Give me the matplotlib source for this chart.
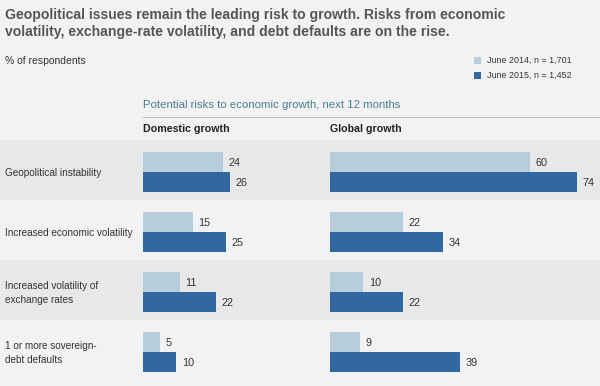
import matplotlib
matplotlib.use("Agg")
import matplotlib.pyplot as plt
from matplotlib.patches import Rectangle

plt.rcParams['font.family'] = ['Liberation Sans', 'DejaVu Sans']

categories = ["Geopolitical instability", "Increased economic volatility",
              "Increased volatility of\nexchange rates", "1 or more sovereign-\ndebt defaults"]
domestic_2014 = [24, 15, 11, 5]
domestic_2015 = [26, 25, 22, 10]
global_2014 = [60, 22, 10, 9]
global_2015 = [74, 34, 22, 39]
series_labels = ["June 2014, n = 1,701", "June 2015, n = 1,452"]
panel_titles = ["Domestic growth", "Global growth"]

W, H = 600, 386
C_LIGHT = "#b7cddc"
C_DARK = "#3168a2"
BAND_DARK = "#e7e9e9"
BAND_LIGHT = "#f2f2f2"
TXT = "#333333"

fig = plt.figure(figsize=(W / 100, H / 100), dpi=100)
fig.patch.set_facecolor(BAND_LIGHT)

bg = fig.add_axes([0, 0, 1, 1])
bg.set_xlim(0, W)
bg.set_ylim(H, 0)
bg.axis("off")

# bands
for i in range(4):
    top = 140 + 60 * i
    bot = top + 60 if i < 3 else H
    bg.add_patch(Rectangle((0, top), W, bot - top,
                           facecolor=BAND_DARK if i % 2 == 0 else BAND_LIGHT,
                           edgecolor="none", zorder=0))

bg.text(5, 15, "Geopolitical issues remain the leading risk to growth. Risks from economic",
        fontsize=10.1, fontweight="bold", color="#555555", va="center", ha="left")
bg.text(5, 32, "volatility, exchange-rate volatility, and debt defaults are on the rise.",
        fontsize=10.1, fontweight="bold", color="#555555", va="center", ha="left")
bg.text(5, 61, "% of respondents", fontsize=7.5, color=TXT, va="center", ha="left")

# legend
for j, (lab, col) in enumerate(zip(series_labels, [C_LIGHT, C_DARK])):
    y = 60.5 + 14.5 * j
    bg.add_patch(Rectangle((474, y - 3.5), 7, 7, facecolor=col, edgecolor="none"))
    bg.text(487, y, lab, fontsize=6.4, color=TXT, va="center", ha="left")

bg.text(143, 105, "Potential risks to economic growth, next 12 months",
        fontsize=8.2, color="#4a7d8f", va="center", ha="left")
bg.plot([143, W], [117, 117], color="#c4c4c4", lw=0.8)
bg.text(143, 129.5, panel_titles[0], fontsize=7.7, fontweight="bold", color="#222222",
        va="center", ha="left")
bg.text(330, 129.5, panel_titles[1], fontsize=7.7, fontweight="bold", color="#222222",
        va="center", ha="left")

for i, cat in enumerate(categories):
    bg.text(5, 173 + 60 * i, cat, fontsize=7.2, color=TXT, va="center", ha="left",
            linespacing=1.45)

scale = 3.335  # px per unit


def panel(x0, x1, v14, v15):
    ax = fig.add_axes([x0 / W, 1 - 380 / H, (x1 - x0) / W, 240 / H])
    ax.set_xlim(0, (x1 - x0) / scale)
    ax.set_ylim(4, 0)
    ax.axis("off")
    ys = list(range(4))
    y_light = [y + 22 / 60 for y in ys]
    y_dark = [y + 42 / 60 for y in ys]
    h = 20 / 60
    ax.barh(y_light, v14, height=h, color=C_LIGHT)
    ax.barh(y_dark, v15, height=h, color=C_DARK)
    off = 5.5 / scale
    for y, v in zip(y_light, v14):
        ax.text(v + off, y + 1 / 60, str(v), fontsize=7.8, color=TXT, va="center", ha="left")
    for y, v in zip(y_dark, v15):
        ax.text(v + off, y + 1 / 60, str(v), fontsize=7.8, color=TXT, va="center", ha="left")


panel(143, 325, domestic_2014, domestic_2015)
panel(330, 600, global_2014, global_2015)

fig.savefig("out.png", dpi=100, facecolor=fig.get_facecolor())
